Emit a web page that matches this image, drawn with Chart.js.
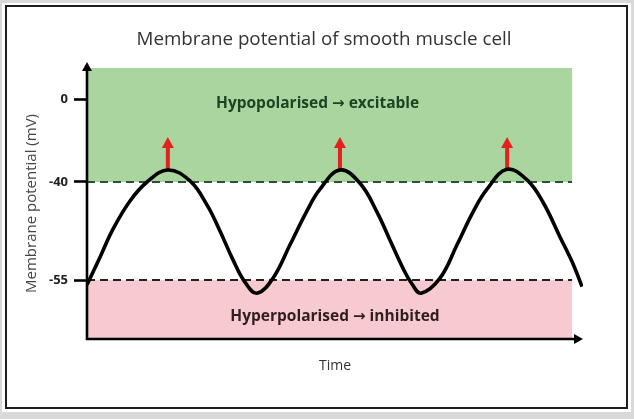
<!DOCTYPE html>
<html>
<head>
<meta charset="utf-8">
<script src="https://cdn.jsdelivr.net/npm/chart.js@4.4.1/dist/chart.umd.min.js"></script>
<style>
  html, body { margin: 0; padding: 0; background: #d9d9d9; }
  #wrap { width: 634px; height: 419px; }
</style>
</head>
<body>
<div id="wrap"><canvas id="chart" width="634" height="419"></canvas></div>
<script>
// Time is in arbitrary units (0..10 along the axis), potential in mV
const waveTime = [0, 0.262, 0.524, 0.867, 1.210, 1.633,
    2.077, 2.419, 2.681, 2.944, 3.185, 3.427,
    3.750, 4.093, 4.435, 4.698, 5.101,
    5.504, 5.847, 6.109, 6.371, 6.552, 6.734,
    7.117, 7.460, 7.782, 8.065, 8.468,
    8.871, 9.194, 9.536, 9.798, 9.980];
const waveMv = [-55.7, -51.5, -47.2, -42.9, -40.0, -34.2,
    -39.5, -43.5, -47.5, -51.9, -55.3, -57.0,
    -54.7, -49.6, -44.4, -41.1, -34.2,
    -40.2, -44.6, -48.9, -53.2, -55.6, -57.0,
    -54.7, -49.6, -44.6, -41.1, -33.9,
    -39.0, -43.1, -48.4, -52.5, -56.0];

const peakTimes = [1.63, 5.10, 8.47];
const arrowFromMv = -34.5;
const arrowToMv = -18.3;

const yTickValues = [-55, -40, 0];
const excitableMv = -40;
const inhibitedMv = -55;
const zoneEndTime = 9.78;
const axisEndTime = 10;

const excitableLabel = { text: 'Hypopolarised \u2192 excitable', t: 4.65, mv: -2.4 };
const inhibitedLabel = { text: 'Hyperpolarised \u2192 inhibited', t: 5.0, mv: -60.6 };

// y axis in the picture is schematic: the -40..-55 band is stretched
class SplitScale extends Chart.LinearScale {
    toDecimal(v) {
        const s = this.options.split.value, f = this.options.split.fraction;
        if (v <= s) return (v - this.min) / (s - this.min) * f;
        return f + (v - s) / (this.max - s) * (1 - f);
    }
    getPixelForValue(v) {
        if (v === null || v === undefined) return NaN;
        return this.getPixelForDecimal(this.toDecimal(v));
    }
    getValueForPixel(p) {
        const d = this.getDecimalForPixel(p);
        const s = this.options.split.value, f = this.options.split.fraction;
        return d <= f ? this.min + d / f * (s - this.min) : s + (d - f) / (1 - f) * (this.max - s);
    }
}
SplitScale.id = 'split';
SplitScale.defaults = Chart.LinearScale.defaults;
Chart.register(SplitScale);

Chart.defaults.font.family = "'Open Sans', sans-serif";

function arrowHead(ctx, tipX, tipY, dx, dy, len, half) {
    // dx,dy: unit direction the arrow points to
    const bx = tipX - dx * len, by = tipY - dy * len;
    ctx.beginPath();
    ctx.moveTo(tipX, tipY);
    ctx.lineTo(bx - dy * half, by + dx * half);
    ctx.lineTo(bx + dy * half, by - dx * half);
    ctx.closePath();
    ctx.fill();
}

// Open Sans has no arrow glyph, so the arrow is set in DejaVu
function zoneLabel(ctx, text, cx, cy) {
    const textFont = "bold 15.5px 'Open Sans', sans-serif";
    const arrowFont = "bold 15px 'DejaVu Sans', sans-serif";
    const [a, b] = text.split('\u2192');
    ctx.font = textFont;
    const wa = ctx.measureText(a).width, wb = ctx.measureText(b).width;
    ctx.font = arrowFont;
    const wArr = ctx.measureText('\u2192').width;
    let left = cx - (wa + wArr + wb) / 2;
    ctx.textAlign = 'left';
    ctx.textBaseline = 'middle';
    ctx.font = textFont;
    ctx.fillText(a, left, cy);
    ctx.font = arrowFont;
    ctx.fillText('\u2192', left + wa, cy + 0.5);
    ctx.font = textFont;
    ctx.fillText(b, left + wa + wArr, cy);
}

const sketchPlugin = {
    id: 'sketch',
    beforeDraw(chart) {
        const ctx = chart.ctx;
        ctx.save();
        ctx.fillStyle = '#d9d9d9';
        ctx.fillRect(0, 0, chart.width, chart.height);
        ctx.fillStyle = '#ffffff';
        ctx.fillRect(2, 3, 629, 409);
        ctx.strokeStyle = '#1e1e1e';
        ctx.lineWidth = 2;
        ctx.strokeRect(6, 6, 621, 402);
        ctx.restore();
    },
    beforeDatasetsDraw(chart) {
        const ctx = chart.ctx, x = chart.scales.x, y = chart.scales.y, area = chart.chartArea;
        const x0 = area.left, x1 = x.getPixelForValue(zoneEndTime);
        const yEx = y.getPixelForValue(excitableMv), yIn = y.getPixelForValue(inhibitedMv);
        ctx.save();
        // zones
        ctx.fillStyle = '#aad59f';
        ctx.fillRect(x0, area.top, x1 - x0, yEx - area.top);
        ctx.fillStyle = '#f6cacf';
        ctx.fillRect(x0, yIn, x1 - x0, area.bottom - yIn);
        // threshold lines
        ctx.lineWidth = 2;
        ctx.setLineDash([8, 5]);
        ctx.strokeStyle = '#2a5233';
        ctx.beginPath(); ctx.moveTo(x0, yEx); ctx.lineTo(x1, yEx); ctx.stroke();
        ctx.strokeStyle = '#222222';
        ctx.beginPath(); ctx.moveTo(x0, yIn); ctx.lineTo(x1, yIn); ctx.stroke();
        ctx.setLineDash([]);
        // zone labels
        ctx.fillStyle = '#1c4424';
        zoneLabel(ctx, excitableLabel.text, x.getPixelForValue(excitableLabel.t), y.getPixelForValue(excitableLabel.mv));
        ctx.fillStyle = '#2e1e1f';
        zoneLabel(ctx, inhibitedLabel.text, x.getPixelForValue(inhibitedLabel.t), y.getPixelForValue(inhibitedLabel.mv));
        // red arrows at the peaks
        ctx.fillStyle = '#e2231d';
        peakTimes.forEach(t => {
            const px = x.getPixelForValue(t);
            const yb = y.getPixelForValue(arrowFromMv), yt = y.getPixelForValue(arrowToMv);
            ctx.fillRect(px - 2, yt + 10, 4, yb - yt - 10);
            arrowHead(ctx, px, yt, 0, -1, 11, 6);
        });
        ctx.restore();
    },
    afterDatasetsDraw(chart) {
        const ctx = chart.ctx, x = chart.scales.x, area = chart.chartArea;
        const xEnd = x.getPixelForValue(axisEndTime);
        ctx.save();
        ctx.strokeStyle = '#000';
        ctx.fillStyle = '#000';
        ctx.lineWidth = 2.6;
        ctx.beginPath();
        ctx.moveTo(area.left, area.top - 2);
        ctx.lineTo(area.left, area.bottom);
        ctx.lineTo(xEnd - 4, area.bottom);
        ctx.stroke();
        arrowHead(ctx, area.left, area.top - 6, 0, -1, 9, 5);
        arrowHead(ctx, xEnd, area.bottom, 1, 0, 9, 5);
        ctx.restore();
    }
};

new Chart(document.getElementById('chart'), {
    type: 'line',
    data: {
        datasets: [{
            data: waveTime.map((t, i) => ({ x: t, y: waveMv[i] })),
            borderColor: '#000000',
            borderWidth: 3.6,
            pointRadius: 0,
            tension: 0.4,
            fill: false
        }]
    },
    options: {
        responsive: false,
        animation: false,
        events: [],
        layout: { padding: { left: 20, right: 6, top: 0, bottom: 0 } },
        plugins: {
            legend: { display: false },
            tooltip: { enabled: false },
            title: {
                display: true,
                text: 'Membrane potential of smooth muscle cell',
                color: '#333333',
                font: { size: 18.8, weight: 'normal', lineHeight: 1.2 },
                padding: { top: 28.5, bottom: 16.9 }
            }
        },
        scales: {
            x: {
                type: 'linear',
                min: 0,
                max: axisEndTime,
                grid: { display: false },
                border: { display: false },
                ticks: { display: false },
                title: {
                    display: true,
                    text: 'Time',
                    color: '#333333',
                    font: { size: 14 },
                    padding: { top: 0, bottom: 45 }
                },
                afterFit: s => { s.height = 80; }
            },
            y: {
                type: 'split',
                position: 'left',
                min: -64,
                max: 15,
                split: { value: -40, fraction: 0.5793 },
                afterBuildTicks: s => { s.ticks = yTickValues.map(v => ({ value: v })); },
                grid: {
                    drawOnChartArea: false,
                    drawTicks: true,
                    tickLength: 13,
                    tickWidth: 2.6,
                    tickColor: '#000000'
                },
                border: { display: false },
                ticks: {
                    padding: 6,
                    color: '#222222',
                    font: { size: 13, weight: 'bold' },
                    callback: v => String(v)
                },
                title: {
                    display: true,
                    text: 'Membrane potential (mV)',
                    color: '#444444',
                    font: { size: 15 },
                    padding: { top: 3, bottom: 0 }
                },
                afterFit: s => { s.width = 67; }
            },
            yPad: {
                type: 'linear',
                position: 'right',
                grid: { display: false },
                border: { display: false },
                ticks: { display: false },
                afterFit: s => { s.width = 45; }
            }
        }
    },
    plugins: [sketchPlugin]
});
</script>
</body>
</html>
